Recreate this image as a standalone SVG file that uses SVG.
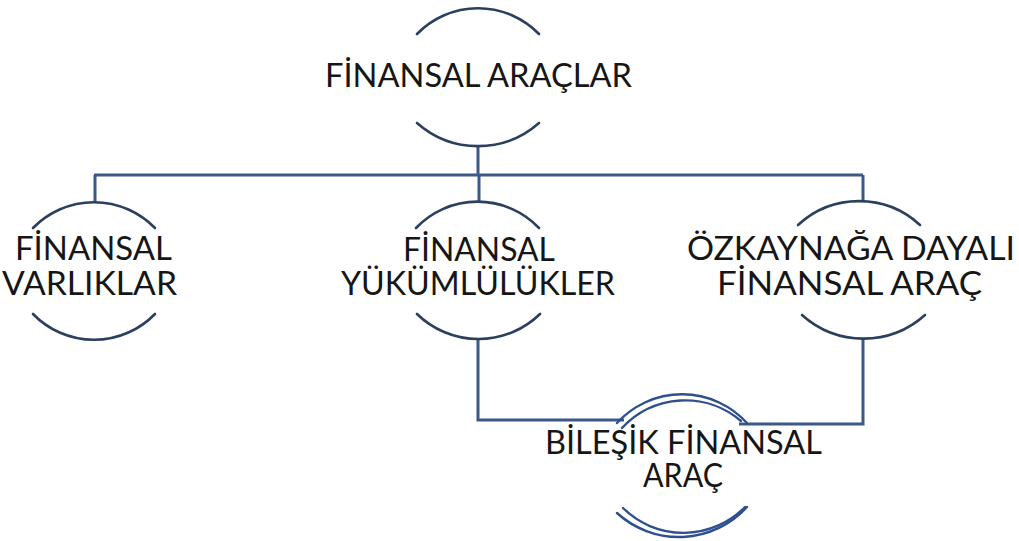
<svg xmlns="http://www.w3.org/2000/svg" width="1019" height="541" viewBox="0 0 1019 541">
  <style>
    .bg { fill: #ffffff; }
    .arc { fill: none; stroke: #2b3f5f; stroke-width: 2.6; stroke-linecap: round; }
    .arc2 { fill: none; stroke: #2f4f8f; stroke-width: 2.4; stroke-linecap: round; }
    .wire { fill: none; stroke: #3a5888; stroke-width: 3; stroke-linejoin: miter; }
    .lbl { font-family: Lato, "Open Sans", "Liberation Sans", sans-serif; font-size: 33px; fill: #161616; text-anchor: middle; }
  </style>
  <rect class="bg" x="0" y="0" width="1019" height="541"/>

  <!-- connectors -->
  <g id="connectors">
    <path class="wire" d="M478,146 V175"/>
    <path class="wire" d="M94,175 H863"/>
    <path class="wire" d="M95,175 V202"/>
    <path class="wire" d="M479,175 V202"/>
    <path class="wire" d="M863,175 V202"/>
    <path class="wire" d="M478,338 V420 H624"/>
    <path class="wire" d="M863,338 V424 H739"/>
  </g>

  <!-- root -->
  <g id="node-finansal-araclar">
    <path class="arc" d="M417,34 A85,85 0 0 1 539,34"/>
    <path class="arc" d="M417,123 A92,92 0 0 0 539,123"/>
    <text class="lbl" x="478.5" y="87" textLength="307" lengthAdjust="spacingAndGlyphs">FİNANSAL ARAÇLAR</text>
  </g>

  <g id="node-finansal-varliklar">
    <path class="arc" d="M33,228 A85,85 0 0 1 155,228"/>
    <path class="arc" d="M33,314 A85,85 0 0 0 155,314"/>
    <text class="lbl" x="93.5" y="260" textLength="157" lengthAdjust="spacingAndGlyphs">FİNANSAL</text>
    <text class="lbl" x="89.5" y="295" textLength="175" lengthAdjust="spacingAndGlyphs">VARLIKLAR</text>
  </g>

  <g id="node-finansal-yukumlulukler">
    <path class="arc" d="M416,228 A85,85 0 0 1 539,228"/>
    <path class="arc" d="M417,314 A88,88 0 0 0 540,314"/>
    <text class="lbl" x="479" y="261" textLength="152" lengthAdjust="spacingAndGlyphs">FİNANSAL</text>
    <text class="lbl" x="478" y="295" textLength="274" lengthAdjust="spacingAndGlyphs">YÜKÜMLÜLÜKLER</text>
  </g>

  <g id="node-ozkaynaga-dayali">
    <path class="arc" d="M798,225 A90,90 0 0 1 920,225"/>
    <path class="arc" d="M802,315 A92,92 0 0 0 925,315"/>
    <text class="lbl" x="851" y="260" textLength="328" lengthAdjust="spacingAndGlyphs">ÖZKAYNAĞA DAYALI</text>
    <text class="lbl" x="849.5" y="295" textLength="265" lengthAdjust="spacingAndGlyphs">FİNANSAL ARAÇ</text>
  </g>

  <g id="node-bilesik">
    <path class="arc2" d="M617,423 A88,88 0 0 1 747,423"/>
    <path class="arc2" d="M622,428 A86,86 0 0 1 741,421"/>
    <path class="arc2" d="M623,508 A86,86 0 0 0 745,507"/>
    <path class="arc2" d="M617,513 A92,92 0 0 0 747,507"/>
    <text class="lbl" x="683.5" y="454" textLength="277" lengthAdjust="spacingAndGlyphs">BİLEŞİK FİNANSAL</text>
    <text class="lbl" x="683" y="487" textLength="80" lengthAdjust="spacingAndGlyphs">ARAÇ</text>
  </g>
</svg>
